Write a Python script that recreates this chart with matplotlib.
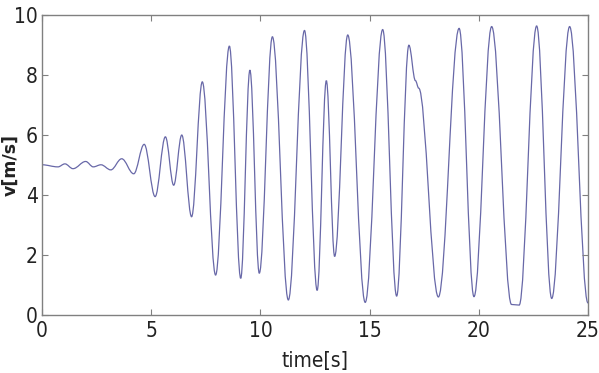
import numpy as np
import matplotlib
matplotlib.use('Agg')
import matplotlib.pyplot as plt
from matplotlib.path import Path
from matplotlib.patches import PathPatch

# turning points of v(t)
t_pts = [0.0, 0.73, 1.05, 1.42, 2.0, 2.35, 2.7, 3.15, 3.65, 4.2,
         4.68, 5.18, 5.65, 6.03, 6.4, 6.85, 7.34, 7.95, 8.58, 9.1,
         9.52, 9.95, 10.55, 11.28, 12.02, 12.6, 13.02, 13.4, 14.0, 14.8,
         15.6, 16.24, 16.8, 17.1, 17.25, 18.15, 19.1, 19.78, 20.59,
         21.5, 21.85, 22.65, 23.34, 24.16, 25.0]
v_pts = [5.0, 4.93, 5.03, 4.87, 5.11, 4.93, 5.0, 4.83, 5.2, 4.7,
         5.68, 3.94, 5.93, 4.32, 5.99, 3.27, 7.76, 1.33, 8.95, 1.22,
         8.15, 1.39, 9.26, 0.5, 9.47, 0.82, 7.8, 1.95, 9.32, 0.42,
         9.5, 0.63, 8.98, 7.8, 7.55, 0.6, 9.54, 0.61, 9.6,
         0.35, 0.33, 9.62, 0.55, 9.6, 0.4]

xticks = [0, 5, 10, 15, 20, 25]
yticks = [0, 2, 4, 6, 8, 10]

plt.rcParams['font.family'] = ['DejaVu Sans']
plt.rcParams['font.stretch'] = 'condensed'

fig = plt.figure(figsize=(5.99, 3.73), dpi=100)
ax = fig.add_axes([0.0701, 0.1555, 0.9115, 0.8055])

# smooth curve through the turning points (flat tangent at each one)
k = 0.364
verts = [(t_pts[0], v_pts[0])]
codes = [Path.MOVETO]
for i in range(len(t_pts) - 1):
    t0, v0, t1, v1 = t_pts[i], v_pts[i], t_pts[i + 1], v_pts[i + 1]
    dt = t1 - t0
    verts += [(t0 + k * dt, v0), (t1 - k * dt, v1), (t1, v1)]
    codes += [Path.CURVE4] * 3
ax.add_patch(PathPatch(Path(verts, codes), facecolor='none',
                       edgecolor='#6868a8', lw=0.9))

ax.set_xlim(0, 25)
ax.set_ylim(0, 10)
ax.set_xticks(xticks)
ax.set_yticks(yticks)
ax.tick_params(direction='in', top=True, right=True, length=4,
               color='#808080', labelsize=15, labelcolor='#222222')
ax.tick_params(axis='x', pad=4)
ax.tick_params(axis='y', pad=3)
for s in ax.spines.values():
    s.set_color('#808080')
    s.set_linewidth(1.0)

ax.set_xlabel('time[s]', fontsize=15, color='#222222')
ax.xaxis.set_label_coords(0.5, -0.12)
ax.set_ylabel('v[m/s]', fontsize=12.5, fontweight='bold', fontstretch='normal',
              color='#222222')
ax.yaxis.set_label_coords(-0.042, 0.5)

fig.savefig('out.png', dpi=100)
